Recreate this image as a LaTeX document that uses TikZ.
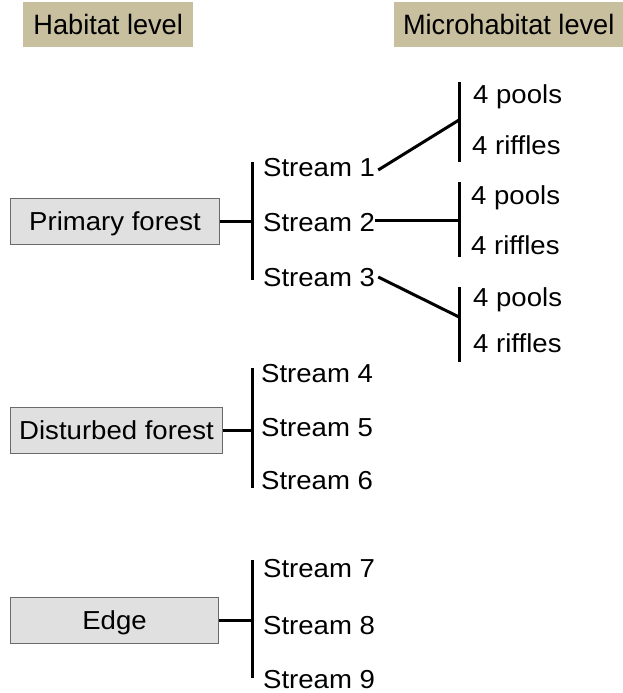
\documentclass[tikz,border=0pt]{standalone}
\usepackage{fontspec}
\setmainfont[FakeStretch=1.06]{Liberation Sans}
\newfontfamily\headfont[FakeStretch=0.97]{Liberation Sans}
\definecolor{headerfill}{HTML}{C7BF9D}
\definecolor{groupfill}{HTML}{E0E0E0}
\definecolor{groupline}{HTML}{6A6A6A}
\begin{document}
\begin{tikzpicture}[x=1pt,y=-1pt,
  every node/.style={font=\fontsize{26}{30}\selectfont},
  header/.style={fill=headerfill,inner sep=0pt,minimum height=45pt,anchor=north west,
    font=\headfont\fontsize{28}{32}\selectfont,text height=20pt,text depth=0pt},
  group/.style={draw=groupline,line width=1pt,fill=groupfill,inner sep=0pt,minimum height=46pt,
    minimum width=210pt,anchor=west,text height=18.6pt,text depth=0pt},
  label/.style={inner sep=0pt,anchor=west,text height=18.6pt,text depth=0pt},
  link/.style={line width=3pt}]
\useasboundingbox (0,0) rectangle (623,693);

% column headers
\node[header,minimum width=170pt] (hab) at (23,2) {Habitat level};
\node[header,minimum width=229pt] (micro) at (394,2) {Microhabitat level};

% habitat groups
\node[group,minimum width=209pt] (primary) at (10,221) {Primary forest};
\node[group,minimum width=212pt] (disturbed) at (10,430) {Disturbed forest};
\node[group,minimum width=208pt] (edge) at (10,620) {Edge};

% streams
\node[label] (s1) at (263,167) {Stream 1};
\node[label] (s2) at (263,222) {Stream 2};
\node[label] (s3) at (263,277) {Stream 3};
\node[label] (s4) at (261,373) {Stream 4};
\node[label] (s5) at (261,427) {Stream 5};
\node[label] (s6) at (261,480) {Stream 6};
\node[label] (s7) at (263,568) {Stream 7};
\node[label] (s8) at (263,625) {Stream 8};
\node[label] (s9) at (263,679) {Stream 9};

% microhabitats
\node[label] (p1) at (473,94) {4 pools};
\node[label] (r1) at (472,145) {4 riffles};
\node[label] (p2) at (471,195) {4 pools};
\node[label] (r2) at (471,245) {4 riffles};
\node[label] (p3) at (473,297) {4 pools};
\node[label] (r3) at (473,343) {4 riffles};

% bracket junctions
\coordinate (b1) at (252,221);
\coordinate (b2) at (252,430);
\coordinate (b3) at (252,620);
\coordinate (m1) at (459,120);
\coordinate (m2) at (459,220);
\coordinate (m3) at (459,317);

% habitat brackets
\draw[link] (252,162) -- (252,280);
\draw[link] (primary.east) -- (b1);
\draw[link] (252,368) -- (252,488);
\draw[link] (disturbed.east) -- (b2);
\draw[link] (252,560) -- (252,678);
\draw[link] (edge.east) -- (b3);

% microhabitat brackets
\draw[link] (459,82) -- (459,162);
\draw[link] (459,182) -- (459,257);
\draw[link] (459,287) -- (459,362);
\draw[link] ([xshift=3pt,yshift=-3pt]s1.east) -- (m1);
\draw[link] (s2.east |- m2) -- (m2);
\draw[link] ([xshift=3pt,yshift=0pt]s3.east) -- (m3);
\end{tikzpicture}
\end{document}
